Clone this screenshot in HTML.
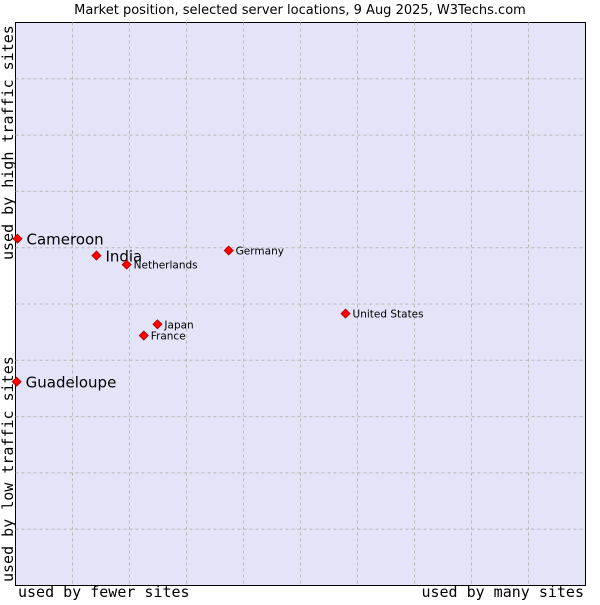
<!DOCTYPE html>
<html><head><meta charset="utf-8"><style>
body{margin:0;background:#fff;width:600px;height:600px;overflow:hidden}
svg text{font-family:"DejaVu Sans","Liberation Sans",sans-serif}
.mono{font-family:"DejaVu Sans Mono","Liberation Mono",monospace}
</style></head><body>
<svg id="chart" width="600" height="600">
<text x="300" y="14" text-anchor="middle" font-size="13" fill="#000">Market position, selected server locations, 9 Aug 2025, W3Techs.com</text>
<rect x="15.5" y="22.5" width="570" height="563" fill="#e3e4f8" stroke="#000" stroke-width="1"/>
<g id="grid"></g>
<g id="points"></g>
<text class="mono" x="18" y="597" font-size="15">used by fewer sites</text>
<text class="mono" x="584" y="597" font-size="15" text-anchor="end">used by many sites</text>
<text class="mono" transform="translate(13,582) rotate(-90)" font-size="15">used by low traffic sites</text>
<text class="mono" transform="translate(13,260) rotate(-90)" font-size="15">used by high traffic sites</text>
</svg>
<script>
const names=["Cameroon","India","Netherlands","Germany","United States","Japan","France","Guadeloupe"];
const xVals=[0.35,14.2,19.5,37.4,57.9,24.9,22.5,0.2];
const yVals=[61.6,58.6,57.0,59.5,48.3,46.4,44.4,36.2];
const highlighted=[true,true,false,false,false,false,false,true];
const L=15.5,T=22.5,W=570,H=563;
const sx=v=>L+v/100*W, sy=v=>T+H-v/100*H;
const ns="http://www.w3.org/2000/svg";
const g=document.getElementById('grid');
for(let i=1;i<10;i++){
  const v=document.createElementNS(ns,'line');
  v.setAttribute('x1',sx(i*10));v.setAttribute('x2',sx(i*10));v.setAttribute('y1',T);v.setAttribute('y2',T+H);
  v.setAttribute('stroke','#b8b8b8');v.setAttribute('stroke-dasharray','3,3');
  
  
  g.appendChild(v);
  const h=document.createElementNS(ns,'line');
  h.setAttribute('y1',sy(i*10));h.setAttribute('y2',sy(i*10));h.setAttribute('x1',L);h.setAttribute('x2',L+W);
  h.setAttribute('stroke','#b8b8b8');h.setAttribute('stroke-dasharray','3,3');
  
  
  g.appendChild(h);
}
const p=document.getElementById('points');
names.forEach((n,i)=>{
  const x=sx(xVals[i]),y=sy(yVals[i]);
  const d=document.createElementNS(ns,'polygon');
  d.setAttribute('points',`${x},${y-4.5} ${x+4.5},${y} ${x},${y+4.5} ${x-4.5},${y}`);
  d.setAttribute('fill','#f00');d.setAttribute('stroke','#a00');d.setAttribute('stroke-width','0.8');
  
  
  p.appendChild(d);
  const t=document.createElementNS(ns,'text');
  const big=highlighted[i];
  t.setAttribute('x',x+(big?9:7));t.setAttribute('y',y+(big?6:4));
  t.setAttribute('font-size',big?15:10.5);
  t.textContent=n;
  
  
  p.appendChild(t);
});
</script>
</body></html>
